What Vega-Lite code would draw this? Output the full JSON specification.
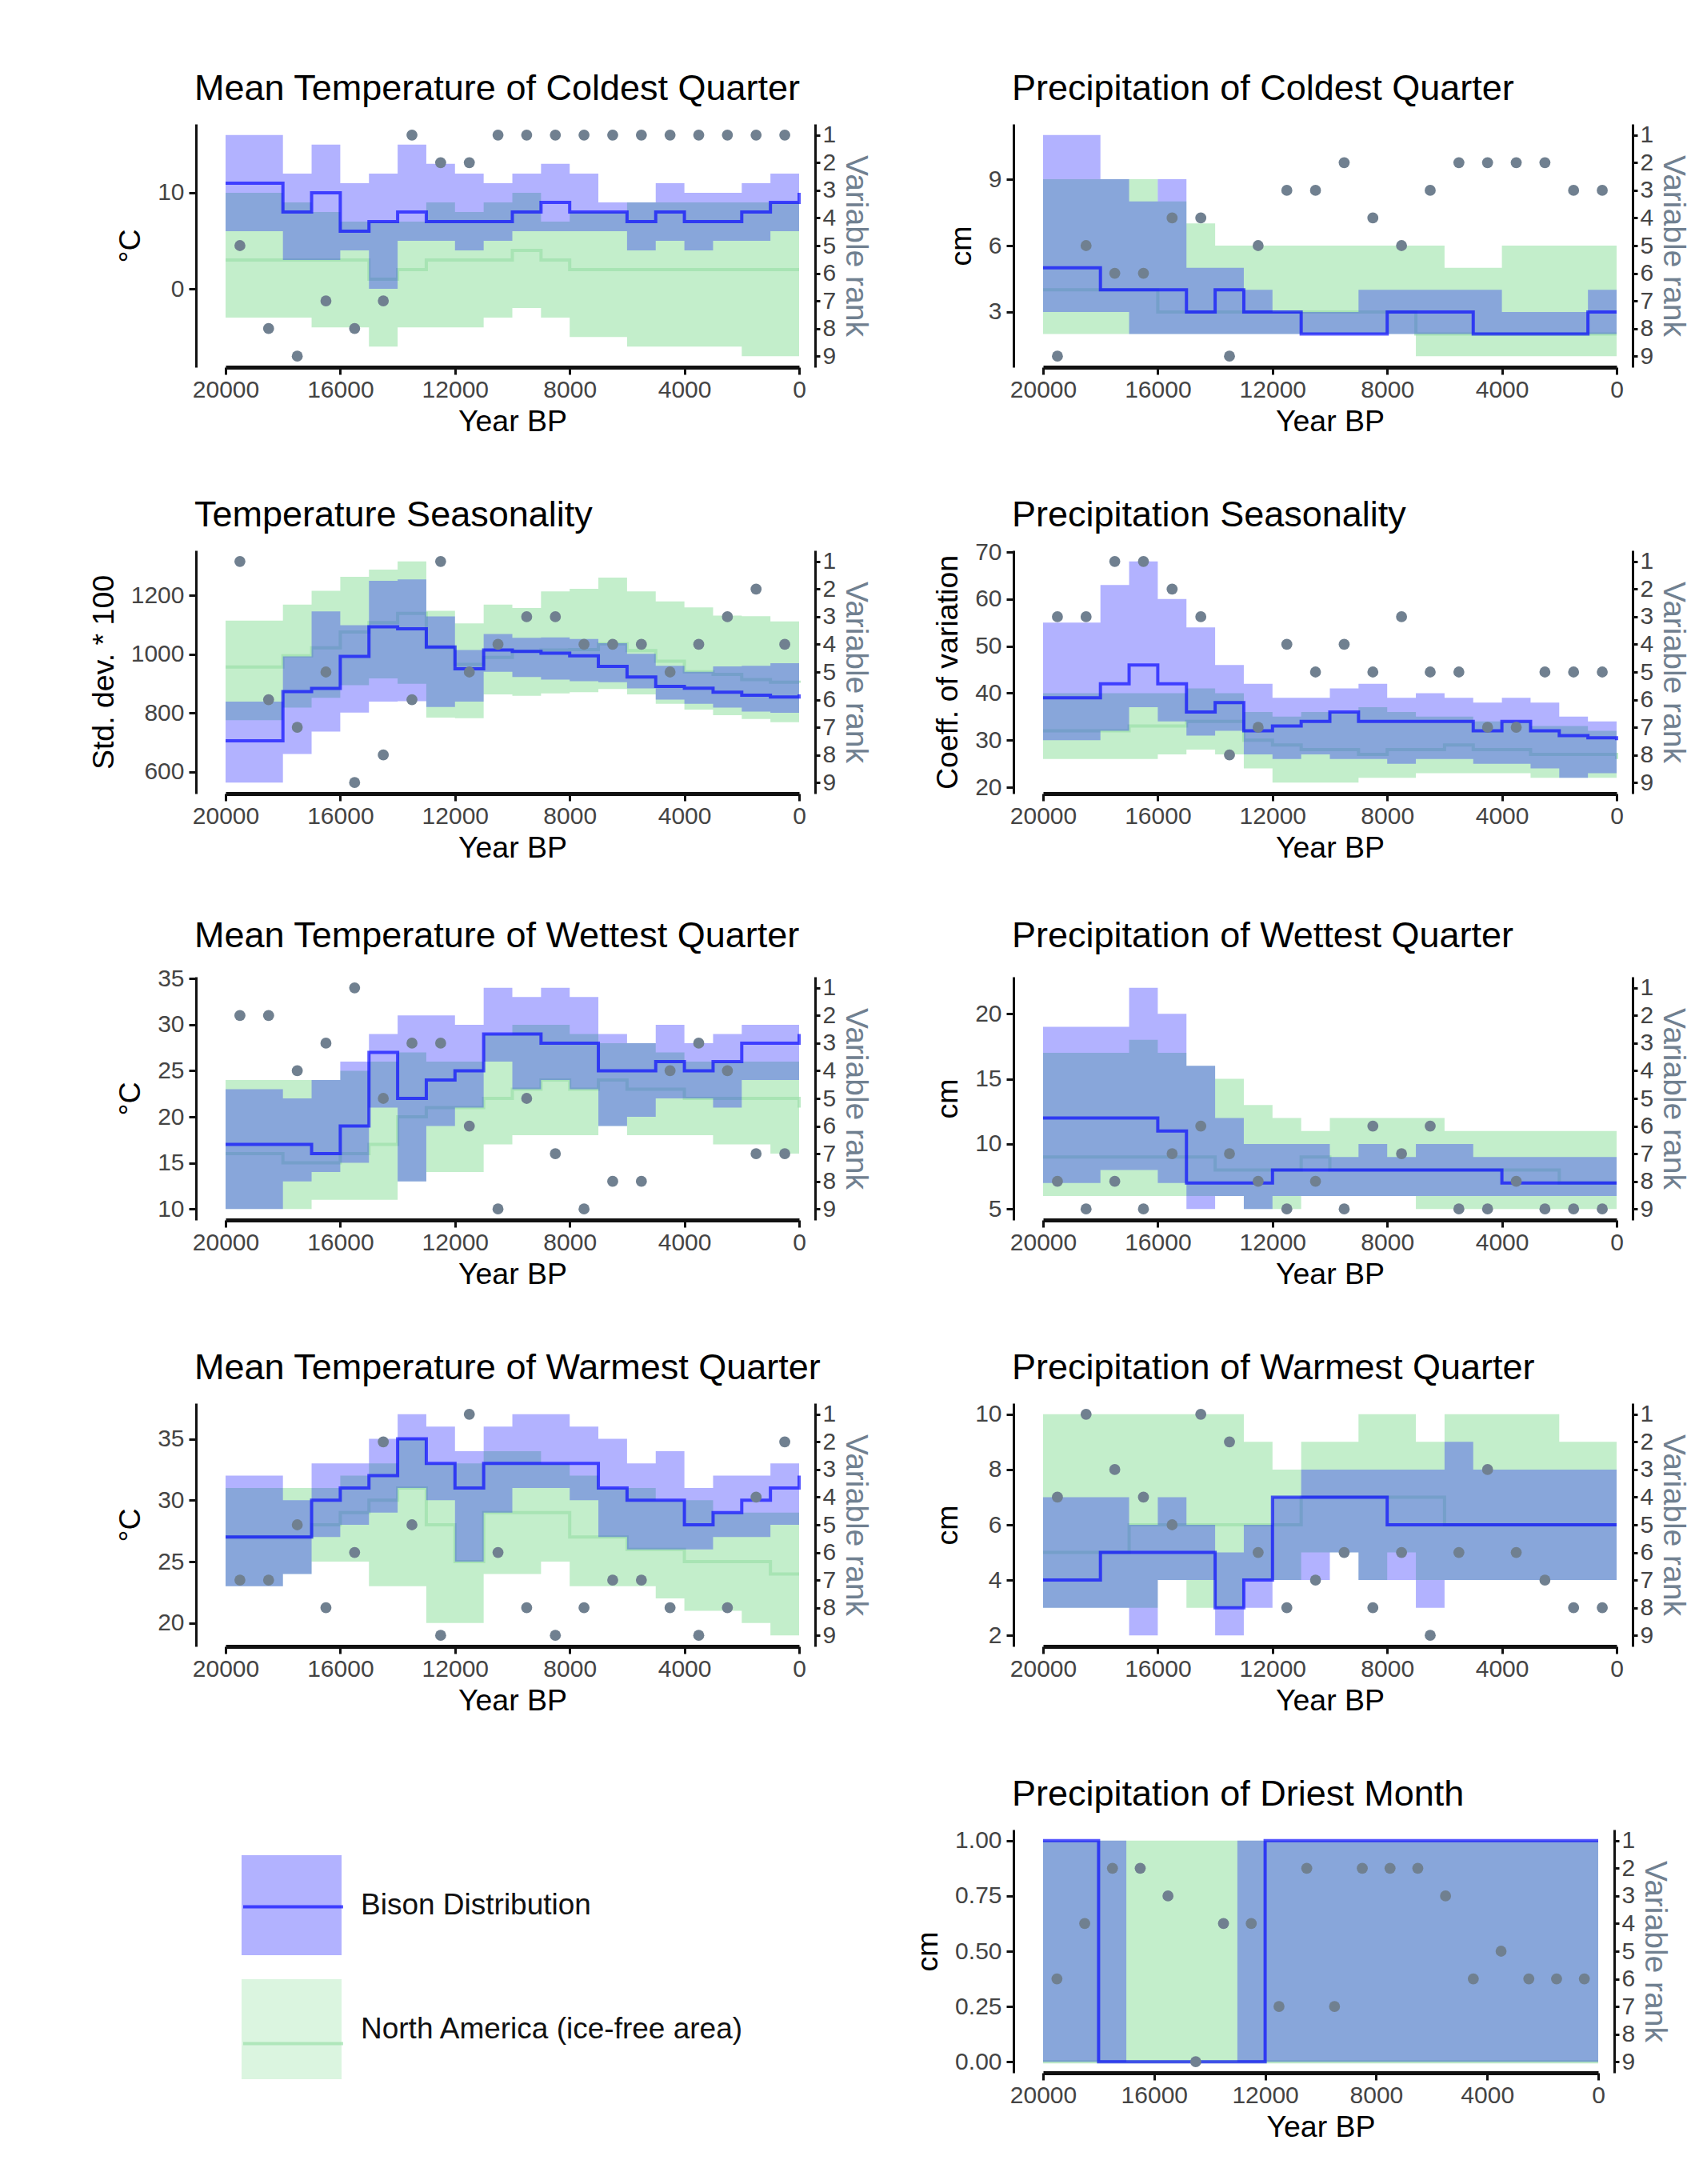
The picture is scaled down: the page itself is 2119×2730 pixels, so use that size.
{
"$schema": "https://vega.github.io/schema/vega-lite/v6.json",
"background": "white",
"padding": {"left": 111, "top": 88, "right": 5, "bottom": 5},
"config": {
  "font": "Liberation Sans",
  "view": {"stroke": null},
  "title": {"fontSize": 45, "fontWeight": "normal", "anchor": "start", "frame": "group", "offset": 20, "baseline": "alphabetic", "dx": -39, "color": "#000000", "font": "Liberation Sans"},
  "axis": {"labelFontSize": 30, "labelColor": "#444444", "titleFontSize": 37.5, "titleFontWeight": "normal", "titleColor": "#000000", "domainColor": "#111111", "domainWidth": 3, "tickColor": "#111111", "tickWidth": 3, "grid": false, "labelFont": "Liberation Sans", "titleFont": "Liberation Sans", "labelFlush": false, "labelOverlap": false},
  "axisBottom": {"domainWidth": 5, "tickSize": 9, "labelPadding": 4, "titlePadding": 6},
  "axisLeft": {"offset": 37, "tickSize": 9, "labelPadding": 6, "titlePadding": 14},
  "axisRight": {"offset": 20, "tickSize": 6, "labelPadding": 3, "titlePadding": 5, "titleColor": "#708090", "titleFontSize": 39},
  "legend": {"labelFont": "Liberation Sans"}
},
"datasets": {
"p1": [
{"t":0,"m":500,"bh":14,"bm":10,"bl":7,"nh":10,"nm":2,"nl":-7,"r":1},
{"t":1000,"m":1500,"bh":12,"bm":9,"bl":6,"nh":9,"nm":2,"nl":-7,"r":1},
{"t":2000,"m":2500,"bh":11,"bm":8,"bl":5,"nh":9,"nm":2,"nl":-7,"r":1},
{"t":3000,"m":3500,"bh":10,"bm":7,"bl":5,"nh":9,"nm":2,"nl":-6,"r":1},
{"t":4000,"m":4500,"bh":10,"bm":7,"bl":4,"nh":9,"nm":2,"nl":-6,"r":1},
{"t":5000,"m":5500,"bh":11,"bm":8,"bl":5,"nh":9,"nm":2,"nl":-6,"r":1},
{"t":6000,"m":6500,"bh":9,"bm":7,"bl":4,"nh":9,"nm":2,"nl":-6,"r":1},
{"t":7000,"m":7500,"bh":9,"bm":8,"bl":6,"nh":8,"nm":2,"nl":-5,"r":1},
{"t":8000,"m":8500,"bh":12,"bm":8,"bl":6,"nh":8,"nm":2,"nl":-5,"r":1},
{"t":9000,"m":9500,"bh":13,"bm":9,"bl":6,"nh":7,"nm":3,"nl":-3,"r":1},
{"t":10000,"m":10500,"bh":12,"bm":8,"bl":6,"nh":10,"nm":4,"nl":-2,"r":1},
{"t":11000,"m":11500,"bh":11,"bm":7,"bl":5,"nh":9,"nm":3,"nl":-3,"r":2},
{"t":12000,"m":12500,"bh":12,"bm":7,"bl":4,"nh":8,"nm":3,"nl":-4,"r":2},
{"t":13000,"m":13500,"bh":13,"bm":7,"bl":5,"nh":9,"nm":3,"nl":-4,"r":1},
{"t":14000,"m":14500,"bh":15,"bm":8,"bl":5,"nh":7,"nm":2,"nl":-4,"r":7},
{"t":15000,"m":15500,"bh":12,"bm":7,"bl":0,"nh":7,"nm":1,"nl":-6,"r":8},
{"t":16000,"m":16500,"bh":11,"bm":6,"bl":4,"nh":7,"nm":3,"nl":-4,"r":7},
{"t":17000,"m":17500,"bh":15,"bm":10,"bl":3,"nh":8,"nm":3,"nl":-4,"r":9},
{"t":18000,"m":18500,"bh":12,"bm":8,"bl":3,"nh":9,"nm":3,"nl":-3,"r":8},
{"t":19000,"m":19500,"bh":16,"bm":11,"bl":6,"nh":10,"nm":3,"nl":-3,"r":5},
{"t":20000,"bh":16,"bm":11,"bl":6,"nh":10,"nm":3,"nl":-3}
],
"p2": [
{"t":0,"m":500,"bh":4,"bm":3,"bl":2,"nh":6,"nm":2,"nl":1,"r":3},
{"t":1000,"m":1500,"bh":4,"bm":3,"bl":2,"nh":6,"nm":2,"nl":1,"r":3},
{"t":2000,"m":2500,"bh":3,"bm":2,"bl":2,"nh":6,"nm":2,"nl":1,"r":2},
{"t":3000,"m":3500,"bh":3,"bm":2,"bl":2,"nh":6,"nm":2,"nl":1,"r":2},
{"t":4000,"m":4500,"bh":3,"bm":2,"bl":2,"nh":6,"nm":2,"nl":1,"r":2},
{"t":5000,"m":5500,"bh":4,"bm":2,"bl":2,"nh":5,"nm":2,"nl":1,"r":2},
{"t":6000,"m":6500,"bh":4,"bm":3,"bl":2,"nh":5,"nm":2,"nl":1,"r":3},
{"t":7000,"m":7500,"bh":4,"bm":3,"bl":2,"nh":6,"nm":2,"nl":1,"r":5},
{"t":8000,"m":8500,"bh":4,"bm":3,"bl":2,"nh":6,"nm":3,"nl":2,"r":4},
{"t":9000,"m":9500,"bh":4,"bm":2,"bl":2,"nh":6,"nm":3,"nl":2,"r":2},
{"t":10000,"m":10500,"bh":3,"bm":2,"bl":2,"nh":6,"nm":3,"nl":2,"r":3},
{"t":11000,"m":11500,"bh":3,"bm":2,"bl":2,"nh":6,"nm":3,"nl":2,"r":3},
{"t":12000,"m":12500,"bh":3,"bm":3,"bl":2,"nh":6,"nm":3,"nl":2,"r":5},
{"t":13000,"m":13500,"bh":4,"bm":3,"bl":2,"nh":6,"nm":3,"nl":2,"r":9},
{"t":14000,"m":14500,"bh":5,"bm":4,"bl":2,"nh":6,"nm":3,"nl":2,"r":4},
{"t":15000,"m":15500,"bh":5,"bm":3,"bl":2,"nh":7,"nm":3,"nl":2,"r":4},
{"t":16000,"m":16500,"bh":9,"bm":4,"bl":2,"nh":8,"nm":3,"nl":2,"r":6},
{"t":17000,"m":17500,"bh":8,"bm":4,"bl":2,"nh":9,"nm":4,"nl":2,"r":6},
{"t":18000,"m":18500,"bh":9,"bm":4,"bl":3,"nh":9,"nm":4,"nl":2,"r":5},
{"t":19000,"m":19500,"bh":11,"bm":5,"bl":3,"nh":9,"nm":4,"nl":2,"r":9},
{"t":20000,"bh":11,"bm":5,"bl":3,"nh":9,"nm":4,"nl":2}
],
"p3": [
{"t":0,"m":500,"bh":950,"bm":864,"bl":765,"nh":1103,"nm":903,"nl":760,"r":4},
{"t":1000,"m":1500,"bh":970,"bm":855,"bl":801,"nh":1112,"nm":905,"nl":769,"r":2},
{"t":2000,"m":2500,"bh":961,"bm":861,"bl":805,"nh":1130,"nm":914,"nl":780,"r":3},
{"t":3000,"m":3500,"bh":959,"bm":871,"bl":819,"nh":1132,"nm":932,"nl":793,"r":4},
{"t":4000,"m":4500,"bh":941,"bm":885,"bl":832,"nh":1160,"nm":941,"nl":812,"r":5},
{"t":5000,"m":5500,"bh":961,"bm":891,"bl":846,"nh":1180,"nm":977,"nl":832,"r":4},
{"t":6000,"m":6500,"bh":1002,"bm":923,"bl":884,"nh":1214,"nm":1013,"nl":864,"r":4},
{"t":7000,"m":7500,"bh":1038,"bm":959,"bl":905,"nh":1261,"nm":1036,"nl":882,"r":4},
{"t":8000,"m":8500,"bh":1052,"bm":995,"bl":909,"nh":1223,"nm":1016,"nl":871,"r":3},
{"t":9000,"m":9500,"bh":1058,"bm":1004,"bl":914,"nh":1214,"nm":1015,"nl":867,"r":3},
{"t":10000,"m":10500,"bh":1056,"bm":1010,"bl":923,"nh":1158,"nm":1011,"nl":859,"r":4},
{"t":11000,"m":11500,"bh":1069,"bm":1015,"bl":941,"nh":1169,"nm":990,"nl":864,"r":5},
{"t":12000,"m":12500,"bh":1015,"bm":951,"bl":839,"nh":1105,"nm":966,"nl":783,"r":1},
{"t":13000,"m":13500,"bh":1129,"bm":1025,"bl":821,"nh":1148,"nm":1022,"nl":785,"r":6},
{"t":14000,"m":14500,"bh":1255,"bm":1087,"bl":841,"nh":1316,"nm":1139,"nl":900,"r":8},
{"t":15000,"m":15500,"bh":1250,"bm":1094,"bl":839,"nh":1288,"nm":1108,"nl":918,"r":9},
{"t":16000,"m":16500,"bh":1099,"bm":993,"bl":802,"nh":1264,"nm":1076,"nl":895,"r":5},
{"t":17000,"m":17500,"bh":1146,"bm":884,"bl":737,"nh":1216,"nm":1022,"nl":852,"r":7},
{"t":18000,"m":18500,"bh":993,"bm":873,"bl":661,"nh":1169,"nm":995,"nl":819,"r":6},
{"t":19000,"m":19500,"bh":839,"bm":706,"bl":564,"nh":1115,"nm":957,"nl":776,"r":1},
{"t":20000,"bh":839,"bm":706,"bl":564,"nh":1115,"nm":957,"nl":776}
],
"p4": [
{"t":0,"m":500,"bh":33,"bm":30,"bl":21,"nh":32,"nm":26,"nl":21,"r":5},
{"t":1000,"m":1500,"bh":34,"bm":30.5,"bl":23,"nh":32,"nm":27,"nl":22,"r":5},
{"t":2000,"m":2500,"bh":35,"bm":31,"bl":22,"nh":33,"nm":27,"nl":22,"r":5},
{"t":3000,"m":3500,"bh":38,"bm":32,"bl":24,"nh":33,"nm":27,"nl":22,"r":7},
{"t":4000,"m":4500,"bh":39,"bm":34,"bl":25,"nh":34,"nm":28,"nl":23,"r":7},
{"t":5000,"m":5500,"bh":38,"bm":32,"bl":25,"nh":34,"nm":28,"nl":23,"r":5},
{"t":6000,"m":6500,"bh":39,"bm":34,"bl":26,"nh":35,"nm":29,"nl":23,"r":5},
{"t":7000,"m":7500,"bh":40,"bm":34,"bl":26,"nh":35,"nm":28,"nl":23,"r":3},
{"t":8000,"m":8500,"bh":39,"bm":34,"bl":25,"nh":36,"nm":28,"nl":22,"r":5},
{"t":9000,"m":9500,"bh":42,"bm":34,"bl":26,"nh":37,"nm":27,"nl":22,"r":4},
{"t":10000,"m":10500,"bh":41,"bm":36,"bl":26,"nh":36,"nm":28,"nl":21,"r":5},
{"t":11000,"m":11500,"bh":39,"bm":34,"bl":27,"nh":36,"nm":28,"nl":21,"r":4},
{"t":12000,"m":12500,"bh":39,"bm":33,"bl":26,"nh":35,"nm":29,"nl":21,"r":7},
{"t":13000,"m":13500,"bh":42,"bm":32,"bl":27,"nh":36,"nm":30,"nl":24,"r":8},
{"t":14000,"m":14500,"bh":46,"bm":38,"bl":32,"nh":40,"nm":34,"nl":27,"r":3},
{"t":15000,"m":15500,"bh":54,"bm":36,"bl":31,"nh":41,"nm":34,"nl":28,"r":2},
{"t":16000,"m":16500,"bh":60,"bm":42,"bl":34,"nh":40,"nm":33,"nl":27,"r":1},
{"t":17000,"m":17500,"bh":68,"bm":46,"bl":37,"nh":40,"nm":33,"nl":26,"r":1},
{"t":18000,"m":18500,"bh":63,"bm":42,"bl":32,"nh":40,"nm":32,"nl":26,"r":3},
{"t":19000,"m":19500,"bh":55,"bm":39,"bl":30,"nh":40,"nm":32,"nl":26,"r":3},
{"t":20000,"bh":55,"bm":39,"bl":30,"nh":40,"nm":32,"nl":26}
],
"p5": [
{"t":0,"m":500,"bh":31,"bm":29,"bl":26,"nh":26,"nm":21,"nl":16,"r":7},
{"t":1000,"m":1500,"bh":30,"bm":28,"bl":24,"nh":26,"nm":22,"nl":16,"r":7},
{"t":2000,"m":2500,"bh":30,"bm":28,"bl":24,"nh":26,"nm":22,"nl":17,"r":4},
{"t":3000,"m":3500,"bh":29,"bm":26,"bl":21,"nh":26,"nm":22,"nl":17,"r":3},
{"t":4000,"m":4500,"bh":28,"bm":25,"bl":22,"nh":26,"nm":22,"nl":18,"r":4},
{"t":5000,"m":5500,"bh":30,"bm":26,"bl":22,"nh":27,"nm":23,"nl":18,"r":8},
{"t":6000,"m":6500,"bh":28,"bm":25,"bl":20,"nh":28,"nm":23,"nl":18,"r":8},
{"t":7000,"m":7500,"bh":29,"bm":25,"bl":19,"nh":28,"nm":24,"nl":19,"r":9},
{"t":8000,"m":8500,"bh":33,"bm":28,"bl":23,"nh":29,"nm":23,"nl":18,"r":7},
{"t":9000,"m":9500,"bh":34,"bm":28,"bl":24,"nh":30,"nm":24,"nl":18,"r":5},
{"t":10000,"m":10500,"bh":33,"bm":29,"bl":23,"nh":30,"nm":23,"nl":18,"r":9},
{"t":11000,"m":11500,"bh":34,"bm":29,"bl":26,"nh":29,"nm":22,"nl":17,"r":6},
{"t":12000,"m":12500,"bh":30,"bm":25,"bl":21,"nh":26,"nm":21,"nl":14,"r":3},
{"t":13000,"m":13500,"bh":31,"bm":24,"bl":19,"nh":26,"nm":21,"nl":14,"r":3},
{"t":14000,"m":14500,"bh":31,"bm":22,"bl":13,"nh":27,"nm":20,"nl":13,"r":5},
{"t":15000,"m":15500,"bh":29,"bm":27,"bl":21,"nh":26,"nm":17,"nl":11,"r":1},
{"t":16000,"m":16500,"bh":26,"bm":19,"bl":15,"nh":25,"nm":16,"nl":11,"r":3},
{"t":17000,"m":17500,"bh":24,"bm":16,"bl":14,"nh":24,"nm":15,"nl":11,"r":4},
{"t":18000,"m":18500,"bh":22,"bm":17,"bl":13,"nh":24,"nm":15,"nl":10,"r":2},
{"t":19000,"m":19500,"bh":23,"bm":17,"bl":10,"nh":24,"nm":16,"nl":10,"r":2},
{"t":20000,"bh":23,"bm":17,"bl":10,"nh":24,"nm":16,"nl":10}
],
"p6": [
{"t":0,"m":500,"bh":10,"bm":7,"bl":6,"nh":11,"nm":7,"nl":5,"r":9},
{"t":1000,"m":1500,"bh":9,"bm":7,"bl":6,"nh":11,"nm":7,"nl":5,"r":9},
{"t":2000,"m":2500,"bh":9,"bm":7,"bl":6,"nh":11,"nm":7,"nl":5,"r":9},
{"t":3000,"m":3500,"bh":9,"bm":7,"bl":6,"nh":11,"nm":8,"nl":5,"r":8},
{"t":4000,"m":4500,"bh":9,"bm":7,"bl":6,"nh":11,"nm":8,"nl":5,"r":9},
{"t":5000,"m":5500,"bh":9,"bm":8,"bl":6,"nh":11,"nm":8,"nl":5,"r":9},
{"t":6000,"m":6500,"bh":10,"bm":8,"bl":6,"nh":11,"nm":8,"nl":5,"r":6},
{"t":7000,"m":7500,"bh":10,"bm":8,"bl":6,"nh":12,"nm":8,"nl":5,"r":7},
{"t":8000,"m":8500,"bh":9,"bm":8,"bl":6,"nh":12,"nm":8,"nl":6,"r":6},
{"t":9000,"m":9500,"bh":10,"bm":8,"bl":6,"nh":12,"nm":8,"nl":6,"r":9},
{"t":10000,"m":10500,"bh":9,"bm":8,"bl":6,"nh":12,"nm":8,"nl":6,"r":8},
{"t":11000,"m":11500,"bh":10,"bm":8,"bl":6,"nh":11,"nm":9,"nl":6,"r":9},
{"t":12000,"m":12500,"bh":10,"bm":8,"bl":6,"nh":12,"nm":8,"nl":5,"r":8},
{"t":13000,"m":13500,"bh":10,"bm":7,"bl":5,"nh":13,"nm":8,"nl":5,"r":7},
{"t":14000,"m":14500,"bh":12,"bm":7,"bl":6,"nh":15,"nm":8,"nl":6,"r":6},
{"t":15000,"m":15500,"bh":16,"bm":7,"bl":5,"nh":16,"nm":9,"nl":6,"r":7},
{"t":16000,"m":16500,"bh":20,"bm":11,"bl":7,"nh":17,"nm":9,"nl":6,"r":9},
{"t":17000,"m":17500,"bh":22,"bm":12,"bl":8,"nh":18,"nm":9,"nl":6,"r":8},
{"t":18000,"m":18500,"bh":19,"bm":12,"bl":8,"nh":17,"nm":9,"nl":6,"r":9},
{"t":19000,"m":19500,"bh":19,"bm":12,"bl":7,"nh":17,"nm":9,"nl":6,"r":8},
{"t":20000,"bh":19,"bm":12,"bl":7,"nh":17,"nm":9,"nl":6}
],
"p7": [
{"t":0,"m":500,"bh":34,"bm":32,"bl":30,"nh":30,"nm":24,"nl":19,"r":2},
{"t":1000,"m":1500,"bh":33,"bm":31,"bl":28,"nh":29,"nm":24,"nl":19,"r":4},
{"t":2000,"m":2500,"bh":32,"bm":30,"bl":27,"nh":29,"nm":25,"nl":20,"r":8},
{"t":3000,"m":3500,"bh":32,"bm":29,"bl":27,"nh":29,"nm":25,"nl":21,"r":9},
{"t":4000,"m":4500,"bh":31,"bm":28,"bl":26,"nh":30,"nm":25,"nl":21,"r":8},
{"t":5000,"m":5500,"bh":34,"bm":30,"bl":26,"nh":30,"nm":26,"nl":22,"r":7},
{"t":6000,"m":6500,"bh":33,"bm":30,"bl":26,"nh":31,"nm":26,"nl":23,"r":7},
{"t":7000,"m":7500,"bh":35,"bm":31,"bl":27,"nh":31,"nm":27,"nl":23,"r":8},
{"t":8000,"m":8500,"bh":36,"bm":33,"bl":30,"nh":32,"nm":27,"nl":23,"r":9},
{"t":9000,"m":9500,"bh":37,"bm":33,"bl":31,"nh":33,"nm":29,"nl":25,"r":8},
{"t":10000,"m":10500,"bh":37,"bm":33,"bl":31,"nh":34,"nm":29,"nl":24,"r":6},
{"t":11000,"m":11500,"bh":36,"bm":33,"bl":29,"nh":34,"nm":29,"nl":24,"r":1},
{"t":12000,"m":12500,"bh":34,"bm":31,"bl":25,"nh":33,"nm":25,"nl":20,"r":9},
{"t":13000,"m":13500,"bh":36,"bm":33,"bl":30,"nh":33,"nm":28,"nl":20,"r":5},
{"t":14000,"m":14500,"bh":37,"bm":35,"bl":31,"nh":35,"nm":31,"nl":23,"r":2},
{"t":15000,"m":15500,"bh":35,"bm":32,"bl":29,"nh":33,"nm":30,"nl":23,"r":6},
{"t":16000,"m":16500,"bh":33,"bm":31,"bl":28,"nh":32,"nm":29,"nl":25,"r":8},
{"t":17000,"m":17500,"bh":33,"bm":30,"bl":27,"nh":31,"nm":28,"nl":25,"r":5},
{"t":18000,"m":18500,"bh":30,"bm":27,"bl":24,"nh":31,"nm":27,"nl":24,"r":7},
{"t":19000,"m":19500,"bh":32,"bm":27,"bl":23,"nh":31,"nm":27,"nl":23,"r":7},
{"t":20000,"bh":32,"bm":27,"bl":23,"nh":31,"nm":27,"nl":23}
],
"p8": [
{"t":0,"m":500,"bh":8,"bm":6,"bl":5,"nh":9,"nm":6,"nl":4,"r":8},
{"t":1000,"m":1500,"bh":8,"bm":6,"bl":4,"nh":9,"nm":6,"nl":4,"r":8},
{"t":2000,"m":2500,"bh":8,"bm":6,"bl":4,"nh":9,"nm":6,"nl":4,"r":7},
{"t":3000,"m":3500,"bh":8,"bm":6,"bl":4,"nh":10,"nm":6,"nl":4,"r":6},
{"t":4000,"m":4500,"bh":8,"bm":6,"bl":4,"nh":10,"nm":6,"nl":4,"r":3},
{"t":5000,"m":5500,"bh":8,"bm":6,"bl":4,"nh":10,"nm":6,"nl":4,"r":6},
{"t":6000,"m":6500,"bh":9,"bm":6,"bl":4,"nh":10,"nm":6,"nl":4,"r":9},
{"t":7000,"m":7500,"bh":8,"bm":6,"bl":3,"nh":9,"nm":7,"nl":4,"r":6},
{"t":8000,"m":8500,"bh":8,"bm":6,"bl":4,"nh":10,"nm":7,"nl":5,"r":8},
{"t":9000,"m":9500,"bh":8,"bm":7,"bl":4,"nh":10,"nm":7,"nl":4,"r":6},
{"t":10000,"m":10500,"bh":8,"bm":7,"bl":5,"nh":9,"nm":7,"nl":5,"r":7},
{"t":11000,"m":11500,"bh":8,"bm":7,"bl":4,"nh":9,"nm":7,"nl":5,"r":8},
{"t":12000,"m":12500,"bh":7,"bm":7,"bl":4,"nh":8,"nm":6,"nl":4,"r":6},
{"t":13000,"m":13500,"bh":6,"bm":4,"bl":3,"nh":9,"nm":6,"nl":4,"r":2},
{"t":14000,"m":14500,"bh":5,"bm":3,"bl":2,"nh":10,"nm":6,"nl":3,"r":1},
{"t":15000,"m":15500,"bh":6,"bm":5,"bl":4,"nh":10,"nm":6,"nl":3,"r":5},
{"t":16000,"m":16500,"bh":7,"bm":5,"bl":4,"nh":10,"nm":6,"nl":4,"r":4},
{"t":17000,"m":17500,"bh":6,"bm":5,"bl":2,"nh":10,"nm":6,"nl":3,"r":3},
{"t":18000,"m":18500,"bh":7,"bm":5,"bl":3,"nh":10,"nm":5,"nl":3,"r":1},
{"t":19000,"m":19500,"bh":7,"bm":4,"bl":3,"nh":10,"nm":5,"nl":3,"r":4},
{"t":20000,"bh":7,"bm":4,"bl":3,"nh":10,"nm":5,"nl":3}
],
"p9": [
{"t":0,"m":500,"bh":1,"bm":1,"bl":0,"nh":1,"nm":0,"nl":0,"r":6},
{"t":1000,"m":1500,"bh":1,"bm":1,"bl":0,"nh":1,"nm":0,"nl":0,"r":6},
{"t":2000,"m":2500,"bh":1,"bm":1,"bl":0,"nh":1,"nm":0,"nl":0,"r":6},
{"t":3000,"m":3500,"bh":1,"bm":1,"bl":0,"nh":1,"nm":0,"nl":0,"r":5},
{"t":4000,"m":4500,"bh":1,"bm":1,"bl":0,"nh":1,"nm":0,"nl":0,"r":6},
{"t":5000,"m":5500,"bh":1,"bm":1,"bl":0,"nh":1,"nm":0,"nl":0,"r":3},
{"t":6000,"m":6500,"bh":1,"bm":1,"bl":0,"nh":1,"nm":0,"nl":0,"r":2},
{"t":7000,"m":7500,"bh":1,"bm":1,"bl":0,"nh":1,"nm":0,"nl":0,"r":2},
{"t":8000,"m":8500,"bh":1,"bm":1,"bl":0,"nh":1,"nm":0,"nl":0,"r":2},
{"t":9000,"m":9500,"bh":1,"bm":1,"bl":0,"nh":1,"nm":0,"nl":0,"r":7},
{"t":10000,"m":10500,"bh":1,"bm":1,"bl":0,"nh":1,"nm":0,"nl":0,"r":2},
{"t":11000,"m":11500,"bh":1,"bm":1,"bl":0,"nh":1,"nm":0,"nl":0,"r":7},
{"t":12000,"m":12500,"bh":1,"bm":1,"bl":0,"nh":1,"nm":0,"nl":0,"r":4},
{"t":13000,"m":13500,"bh":1,"bm":0,"bl":0,"nh":1,"nm":0,"nl":0,"r":4},
{"t":14000,"m":14500,"bh":0,"bm":0,"bl":0,"nh":1,"nm":0,"nl":0,"r":9},
{"t":15000,"m":15500,"bh":0,"bm":0,"bl":0,"nh":1,"nm":0,"nl":0,"r":3},
{"t":16000,"m":16500,"bh":0,"bm":0,"bl":0,"nh":1,"nm":0,"nl":0,"r":2},
{"t":17000,"m":17500,"bh":0,"bm":0,"bl":0,"nh":1,"nm":0,"nl":0,"r":2},
{"t":18000,"m":18500,"bh":1,"bm":0,"bl":0,"nh":1,"nm":0,"nl":0,"r":4},
{"t":19000,"m":19500,"bh":1,"bm":1,"bl":0,"nh":1,"nm":0,"nl":0,"r":6},
{"t":20000,"bh":1,"bm":1,"bl":0,"nh":1,"nm":0,"nl":0}
]
},
"columns": 2,
"bounds": "flush",
"spacing": {"row": 229, "column": 305},
"resolve": {"scale": {"fill": "shared", "stroke": "shared"}, "legend": {"fill": "shared", "stroke": "shared"}},
"concat": [
{"title": "Mean Temperature of Coldest Quarter", "width": 717, "height": 304, "data": {"name": "p1"}, "resolve": {"scale": {"y": "independent"}},
 "layer": [
  {"layer": [
   {"mark": {"type": "area", "interpolate": "step-after", "fillOpacity": 0.5}, "encoding": {"x": {"field": "t", "type": "quantitative", "scale": {"domain": [0, 20000], "reverse": true, "nice": false, "zero": false}, "axis": {"title": "Year BP", "values": [20000, 16000, 12000, 8000, 4000, 0], "format": "d"}}, "y": {"field": "nl", "type": "quantitative", "scale": {"domain": [-8.15, 17.15], "nice": false, "zero": false}, "axis": {"title": "°C", "values": [0, 10], "format": "d"}}, "y2": {"field": "nh"}, "fill": {"datum": "North America (ice-free area)", "type": "nominal", "scale": {"domain": ["Bison Distribution", "North America (ice-free area)"], "range": ["#0000ff", "#87de98"]}, "legend": {"orient": "none", "legendX": 20, "legendY": 2164, "title": null, "symbolType": "square", "symbolSize": 15625, "symbolOpacity": 0.3, "symbolStrokeWidth": 0, "labelFontSize": 37, "labelColor": "#111111", "labelOffset": 24, "rowPadding": 30, "padding": 0, "labelLimit": 1000}}}},
   {"mark": {"type": "line", "interpolate": "step-after", "strokeWidth": 4, "strokeOpacity": 0.65}, "encoding": {"x": {"field": "t", "type": "quantitative", "scale": {"domain": [0, 20000], "reverse": true, "nice": false, "zero": false}, "axis": {"title": "Year BP", "values": [20000, 16000, 12000, 8000, 4000, 0], "format": "d"}}, "y": {"field": "nm", "type": "quantitative", "scale": {"domain": [-8.15, 17.15], "nice": false, "zero": false}, "axis": {"title": "°C", "values": [0, 10], "format": "d"}}, "stroke": {"datum": "na", "type": "nominal", "scale": {"domain": ["bison", "na"], "range": ["#0000ff", "#99dfa8"]}, "legend": {"orient": "none", "legendX": 20, "legendY": 2164, "title": null, "symbolType": "M0,-1M0,1M-1,0H1", "symbolSize": 15625, "symbolStrokeWidth": 4, "symbolOpacity": 0.65, "labelExpr": "''", "labelFontSize": 37, "labelOffset": 24, "rowPadding": 30, "padding": 0}}}},
   {"mark": {"type": "area", "interpolate": "step-after", "fillOpacity": 0.3}, "encoding": {"x": {"field": "t", "type": "quantitative", "scale": {"domain": [0, 20000], "reverse": true, "nice": false, "zero": false}, "axis": {"title": "Year BP", "values": [20000, 16000, 12000, 8000, 4000, 0], "format": "d"}}, "y": {"field": "bl", "type": "quantitative", "scale": {"domain": [-8.15, 17.15], "nice": false, "zero": false}, "axis": {"title": "°C", "values": [0, 10], "format": "d"}}, "y2": {"field": "bh"}, "fill": {"datum": "Bison Distribution", "type": "nominal"}}},
   {"mark": {"type": "line", "interpolate": "step-after", "strokeWidth": 4, "strokeOpacity": 0.65}, "encoding": {"x": {"field": "t", "type": "quantitative", "scale": {"domain": [0, 20000], "reverse": true, "nice": false, "zero": false}, "axis": {"title": "Year BP", "values": [20000, 16000, 12000, 8000, 4000, 0], "format": "d"}}, "y": {"field": "bm", "type": "quantitative", "scale": {"domain": [-8.15, 17.15], "nice": false, "zero": false}, "axis": {"title": "°C", "values": [0, 10], "format": "d"}}, "stroke": {"datum": "bison", "type": "nominal"}}}
  ]},
  {"transform": [{"filter": "isValid(datum.r)"}], "mark": {"type": "circle", "size": 190, "color": "#708090", "opacity": 1}, "encoding": {"x": {"field": "m", "type": "quantitative", "scale": {"domain": [0, 20000], "reverse": true, "nice": false, "zero": false}, "axis": {"title": "Year BP", "values": [20000, 16000, 12000, 8000, 4000, 0], "format": "d"}}, "y": {"field": "r", "type": "quantitative", "scale": {"domain": [0.6, 9.4], "reverse": true, "nice": false, "zero": false}, "axis": {"orient": "right", "title": "Variable rank", "values": [1, 2, 3, 4, 5, 6, 7, 8, 9], "format": "d"}}}}
 ]},
{"title": "Precipitation of Coldest Quarter", "width": 717, "height": 304, "data": {"name": "p2"}, "resolve": {"scale": {"y": "independent"}},
 "layer": [
  {"layer": [
   {"mark": {"type": "area", "interpolate": "step-after", "fillOpacity": 0.5}, "encoding": {"x": {"field": "t", "type": "quantitative", "scale": {"domain": [0, 20000], "reverse": true, "nice": false, "zero": false}, "axis": {"title": "Year BP", "values": [20000, 16000, 12000, 8000, 4000, 0], "format": "d"}}, "y": {"field": "nl", "type": "quantitative", "scale": {"domain": [0.5, 11.5], "nice": false, "zero": false}, "axis": {"title": "cm", "values": [3, 6, 9], "format": "d"}}, "y2": {"field": "nh"}, "fill": {"datum": "North America (ice-free area)", "type": "nominal"}}},
   {"mark": {"type": "line", "interpolate": "step-after", "strokeWidth": 4, "strokeOpacity": 0.65}, "encoding": {"x": {"field": "t", "type": "quantitative", "scale": {"domain": [0, 20000], "reverse": true, "nice": false, "zero": false}, "axis": {"title": "Year BP", "values": [20000, 16000, 12000, 8000, 4000, 0], "format": "d"}}, "y": {"field": "nm", "type": "quantitative", "scale": {"domain": [0.5, 11.5], "nice": false, "zero": false}, "axis": {"title": "cm", "values": [3, 6, 9], "format": "d"}}, "stroke": {"datum": "na", "type": "nominal"}}},
   {"mark": {"type": "area", "interpolate": "step-after", "fillOpacity": 0.3}, "encoding": {"x": {"field": "t", "type": "quantitative", "scale": {"domain": [0, 20000], "reverse": true, "nice": false, "zero": false}, "axis": {"title": "Year BP", "values": [20000, 16000, 12000, 8000, 4000, 0], "format": "d"}}, "y": {"field": "bl", "type": "quantitative", "scale": {"domain": [0.5, 11.5], "nice": false, "zero": false}, "axis": {"title": "cm", "values": [3, 6, 9], "format": "d"}}, "y2": {"field": "bh"}, "fill": {"datum": "Bison Distribution", "type": "nominal"}}},
   {"mark": {"type": "line", "interpolate": "step-after", "strokeWidth": 4, "strokeOpacity": 0.65}, "encoding": {"x": {"field": "t", "type": "quantitative", "scale": {"domain": [0, 20000], "reverse": true, "nice": false, "zero": false}, "axis": {"title": "Year BP", "values": [20000, 16000, 12000, 8000, 4000, 0], "format": "d"}}, "y": {"field": "bm", "type": "quantitative", "scale": {"domain": [0.5, 11.5], "nice": false, "zero": false}, "axis": {"title": "cm", "values": [3, 6, 9], "format": "d"}}, "stroke": {"datum": "bison", "type": "nominal"}}}
  ]},
  {"transform": [{"filter": "isValid(datum.r)"}], "mark": {"type": "circle", "size": 190, "color": "#708090", "opacity": 1}, "encoding": {"x": {"field": "m", "type": "quantitative", "scale": {"domain": [0, 20000], "reverse": true, "nice": false, "zero": false}, "axis": {"title": "Year BP", "values": [20000, 16000, 12000, 8000, 4000, 0], "format": "d"}}, "y": {"field": "r", "type": "quantitative", "scale": {"domain": [0.6, 9.4], "reverse": true, "nice": false, "zero": false}, "axis": {"orient": "right", "title": "Variable rank", "values": [1, 2, 3, 4, 5, 6, 7, 8, 9], "format": "d"}}}}
 ]},
{"title": "Temperature Seasonality", "width": 717, "height": 304, "data": {"name": "p3"}, "resolve": {"scale": {"y": "independent"}},
 "layer": [
  {"layer": [
   {"mark": {"type": "area", "interpolate": "step-after", "fillOpacity": 0.5}, "encoding": {"x": {"field": "t", "type": "quantitative", "scale": {"domain": [0, 20000], "reverse": true, "nice": false, "zero": false}, "axis": {"title": "Year BP", "values": [20000, 16000, 12000, 8000, 4000, 0], "format": "d"}}, "y": {"field": "nl", "type": "quantitative", "scale": {"domain": [526.4, 1353.6], "nice": false, "zero": false}, "axis": {"title": "Std. dev. * 100", "values": [600, 800, 1000, 1200], "format": "d"}}, "y2": {"field": "nh"}, "fill": {"datum": "North America (ice-free area)", "type": "nominal"}}},
   {"mark": {"type": "line", "interpolate": "step-after", "strokeWidth": 4, "strokeOpacity": 0.65}, "encoding": {"x": {"field": "t", "type": "quantitative", "scale": {"domain": [0, 20000], "reverse": true, "nice": false, "zero": false}, "axis": {"title": "Year BP", "values": [20000, 16000, 12000, 8000, 4000, 0], "format": "d"}}, "y": {"field": "nm", "type": "quantitative", "scale": {"domain": [526.4, 1353.6], "nice": false, "zero": false}, "axis": {"title": "Std. dev. * 100", "values": [600, 800, 1000, 1200], "format": "d"}}, "stroke": {"datum": "na", "type": "nominal"}}},
   {"mark": {"type": "area", "interpolate": "step-after", "fillOpacity": 0.3}, "encoding": {"x": {"field": "t", "type": "quantitative", "scale": {"domain": [0, 20000], "reverse": true, "nice": false, "zero": false}, "axis": {"title": "Year BP", "values": [20000, 16000, 12000, 8000, 4000, 0], "format": "d"}}, "y": {"field": "bl", "type": "quantitative", "scale": {"domain": [526.4, 1353.6], "nice": false, "zero": false}, "axis": {"title": "Std. dev. * 100", "values": [600, 800, 1000, 1200], "format": "d"}}, "y2": {"field": "bh"}, "fill": {"datum": "Bison Distribution", "type": "nominal"}}},
   {"mark": {"type": "line", "interpolate": "step-after", "strokeWidth": 4, "strokeOpacity": 0.65}, "encoding": {"x": {"field": "t", "type": "quantitative", "scale": {"domain": [0, 20000], "reverse": true, "nice": false, "zero": false}, "axis": {"title": "Year BP", "values": [20000, 16000, 12000, 8000, 4000, 0], "format": "d"}}, "y": {"field": "bm", "type": "quantitative", "scale": {"domain": [526.4, 1353.6], "nice": false, "zero": false}, "axis": {"title": "Std. dev. * 100", "values": [600, 800, 1000, 1200], "format": "d"}}, "stroke": {"datum": "bison", "type": "nominal"}}}
  ]},
  {"transform": [{"filter": "isValid(datum.r)"}], "mark": {"type": "circle", "size": 190, "color": "#708090", "opacity": 1}, "encoding": {"x": {"field": "m", "type": "quantitative", "scale": {"domain": [0, 20000], "reverse": true, "nice": false, "zero": false}, "axis": {"title": "Year BP", "values": [20000, 16000, 12000, 8000, 4000, 0], "format": "d"}}, "y": {"field": "r", "type": "quantitative", "scale": {"domain": [0.6, 9.4], "reverse": true, "nice": false, "zero": false}, "axis": {"orient": "right", "title": "Variable rank", "values": [1, 2, 3, 4, 5, 6, 7, 8, 9], "format": "d"}}}}
 ]},
{"title": {"text": "Precipitation Seasonality", "offset": 8}, "width": 717, "height": 304, "data": {"name": "p4"}, "resolve": {"scale": {"y": "independent"}},
 "layer": [
  {"layer": [
   {"mark": {"type": "area", "interpolate": "step-after", "fillOpacity": 0.5}, "encoding": {"x": {"field": "t", "type": "quantitative", "scale": {"domain": [0, 20000], "reverse": true, "nice": false, "zero": false}, "axis": {"title": "Year BP", "values": [20000, 16000, 12000, 8000, 4000, 0], "format": "d"}}, "y": {"field": "nl", "type": "quantitative", "scale": {"domain": [18.65, 70.35], "nice": false, "zero": false}, "axis": {"title": "Coeff. of variation", "values": [20, 30, 40, 50, 60, 70], "format": "d"}}, "y2": {"field": "nh"}, "fill": {"datum": "North America (ice-free area)", "type": "nominal"}}},
   {"mark": {"type": "line", "interpolate": "step-after", "strokeWidth": 4, "strokeOpacity": 0.65}, "encoding": {"x": {"field": "t", "type": "quantitative", "scale": {"domain": [0, 20000], "reverse": true, "nice": false, "zero": false}, "axis": {"title": "Year BP", "values": [20000, 16000, 12000, 8000, 4000, 0], "format": "d"}}, "y": {"field": "nm", "type": "quantitative", "scale": {"domain": [18.65, 70.35], "nice": false, "zero": false}, "axis": {"title": "Coeff. of variation", "values": [20, 30, 40, 50, 60, 70], "format": "d"}}, "stroke": {"datum": "na", "type": "nominal"}}},
   {"mark": {"type": "area", "interpolate": "step-after", "fillOpacity": 0.3}, "encoding": {"x": {"field": "t", "type": "quantitative", "scale": {"domain": [0, 20000], "reverse": true, "nice": false, "zero": false}, "axis": {"title": "Year BP", "values": [20000, 16000, 12000, 8000, 4000, 0], "format": "d"}}, "y": {"field": "bl", "type": "quantitative", "scale": {"domain": [18.65, 70.35], "nice": false, "zero": false}, "axis": {"title": "Coeff. of variation", "values": [20, 30, 40, 50, 60, 70], "format": "d"}}, "y2": {"field": "bh"}, "fill": {"datum": "Bison Distribution", "type": "nominal"}}},
   {"mark": {"type": "line", "interpolate": "step-after", "strokeWidth": 4, "strokeOpacity": 0.65}, "encoding": {"x": {"field": "t", "type": "quantitative", "scale": {"domain": [0, 20000], "reverse": true, "nice": false, "zero": false}, "axis": {"title": "Year BP", "values": [20000, 16000, 12000, 8000, 4000, 0], "format": "d"}}, "y": {"field": "bm", "type": "quantitative", "scale": {"domain": [18.65, 70.35], "nice": false, "zero": false}, "axis": {"title": "Coeff. of variation", "values": [20, 30, 40, 50, 60, 70], "format": "d"}}, "stroke": {"datum": "bison", "type": "nominal"}}}
  ]},
  {"transform": [{"filter": "isValid(datum.r)"}], "mark": {"type": "circle", "size": 190, "color": "#708090", "opacity": 1}, "encoding": {"x": {"field": "m", "type": "quantitative", "scale": {"domain": [0, 20000], "reverse": true, "nice": false, "zero": false}, "axis": {"title": "Year BP", "values": [20000, 16000, 12000, 8000, 4000, 0], "format": "d"}}, "y": {"field": "r", "type": "quantitative", "scale": {"domain": [0.6, 9.4], "reverse": true, "nice": false, "zero": false}, "axis": {"orient": "right", "title": "Variable rank", "values": [1, 2, 3, 4, 5, 6, 7, 8, 9], "format": "d"}}}}
 ]},
{"title": {"text": "Mean Temperature of Wettest Quarter", "offset": 15}, "width": 717, "height": 304, "data": {"name": "p5"}, "resolve": {"scale": {"y": "independent"}},
 "layer": [
  {"layer": [
   {"mark": {"type": "area", "interpolate": "step-after", "fillOpacity": 0.5}, "encoding": {"x": {"field": "t", "type": "quantitative", "scale": {"domain": [0, 20000], "reverse": true, "nice": false, "zero": false}, "axis": {"title": "Year BP", "values": [20000, 16000, 12000, 8000, 4000, 0], "format": "d"}}, "y": {"field": "nl", "type": "quantitative", "scale": {"domain": [8.8, 35.2], "nice": false, "zero": false}, "axis": {"title": "°C", "values": [10, 15, 20, 25, 30, 35], "format": "d"}}, "y2": {"field": "nh"}, "fill": {"datum": "North America (ice-free area)", "type": "nominal"}}},
   {"mark": {"type": "line", "interpolate": "step-after", "strokeWidth": 4, "strokeOpacity": 0.65}, "encoding": {"x": {"field": "t", "type": "quantitative", "scale": {"domain": [0, 20000], "reverse": true, "nice": false, "zero": false}, "axis": {"title": "Year BP", "values": [20000, 16000, 12000, 8000, 4000, 0], "format": "d"}}, "y": {"field": "nm", "type": "quantitative", "scale": {"domain": [8.8, 35.2], "nice": false, "zero": false}, "axis": {"title": "°C", "values": [10, 15, 20, 25, 30, 35], "format": "d"}}, "stroke": {"datum": "na", "type": "nominal"}}},
   {"mark": {"type": "area", "interpolate": "step-after", "fillOpacity": 0.3}, "encoding": {"x": {"field": "t", "type": "quantitative", "scale": {"domain": [0, 20000], "reverse": true, "nice": false, "zero": false}, "axis": {"title": "Year BP", "values": [20000, 16000, 12000, 8000, 4000, 0], "format": "d"}}, "y": {"field": "bl", "type": "quantitative", "scale": {"domain": [8.8, 35.2], "nice": false, "zero": false}, "axis": {"title": "°C", "values": [10, 15, 20, 25, 30, 35], "format": "d"}}, "y2": {"field": "bh"}, "fill": {"datum": "Bison Distribution", "type": "nominal"}}},
   {"mark": {"type": "line", "interpolate": "step-after", "strokeWidth": 4, "strokeOpacity": 0.65}, "encoding": {"x": {"field": "t", "type": "quantitative", "scale": {"domain": [0, 20000], "reverse": true, "nice": false, "zero": false}, "axis": {"title": "Year BP", "values": [20000, 16000, 12000, 8000, 4000, 0], "format": "d"}}, "y": {"field": "bm", "type": "quantitative", "scale": {"domain": [8.8, 35.2], "nice": false, "zero": false}, "axis": {"title": "°C", "values": [10, 15, 20, 25, 30, 35], "format": "d"}}, "stroke": {"datum": "bison", "type": "nominal"}}}
  ]},
  {"transform": [{"filter": "isValid(datum.r)"}], "mark": {"type": "circle", "size": 190, "color": "#708090", "opacity": 1}, "encoding": {"x": {"field": "m", "type": "quantitative", "scale": {"domain": [0, 20000], "reverse": true, "nice": false, "zero": false}, "axis": {"title": "Year BP", "values": [20000, 16000, 12000, 8000, 4000, 0], "format": "d"}}, "y": {"field": "r", "type": "quantitative", "scale": {"domain": [0.6, 9.4], "reverse": true, "nice": false, "zero": false}, "axis": {"orient": "right", "title": "Variable rank", "values": [1, 2, 3, 4, 5, 6, 7, 8, 9], "format": "d"}}}}
 ]},
{"title": {"text": "Precipitation of Wettest Quarter", "offset": 27}, "width": 717, "height": 304, "data": {"name": "p6"}, "resolve": {"scale": {"y": "independent"}},
 "layer": [
  {"layer": [
   {"mark": {"type": "area", "interpolate": "step-after", "fillOpacity": 0.5}, "encoding": {"x": {"field": "t", "type": "quantitative", "scale": {"domain": [0, 20000], "reverse": true, "nice": false, "zero": false}, "axis": {"title": "Year BP", "values": [20000, 16000, 12000, 8000, 4000, 0], "format": "d"}}, "y": {"field": "nl", "type": "quantitative", "scale": {"domain": [4.15, 22.85], "nice": false, "zero": false}, "axis": {"title": "cm", "values": [5, 10, 15, 20], "format": "d"}}, "y2": {"field": "nh"}, "fill": {"datum": "North America (ice-free area)", "type": "nominal"}}},
   {"mark": {"type": "line", "interpolate": "step-after", "strokeWidth": 4, "strokeOpacity": 0.65}, "encoding": {"x": {"field": "t", "type": "quantitative", "scale": {"domain": [0, 20000], "reverse": true, "nice": false, "zero": false}, "axis": {"title": "Year BP", "values": [20000, 16000, 12000, 8000, 4000, 0], "format": "d"}}, "y": {"field": "nm", "type": "quantitative", "scale": {"domain": [4.15, 22.85], "nice": false, "zero": false}, "axis": {"title": "cm", "values": [5, 10, 15, 20], "format": "d"}}, "stroke": {"datum": "na", "type": "nominal"}}},
   {"mark": {"type": "area", "interpolate": "step-after", "fillOpacity": 0.3}, "encoding": {"x": {"field": "t", "type": "quantitative", "scale": {"domain": [0, 20000], "reverse": true, "nice": false, "zero": false}, "axis": {"title": "Year BP", "values": [20000, 16000, 12000, 8000, 4000, 0], "format": "d"}}, "y": {"field": "bl", "type": "quantitative", "scale": {"domain": [4.15, 22.85], "nice": false, "zero": false}, "axis": {"title": "cm", "values": [5, 10, 15, 20], "format": "d"}}, "y2": {"field": "bh"}, "fill": {"datum": "Bison Distribution", "type": "nominal"}}},
   {"mark": {"type": "line", "interpolate": "step-after", "strokeWidth": 4, "strokeOpacity": 0.65}, "encoding": {"x": {"field": "t", "type": "quantitative", "scale": {"domain": [0, 20000], "reverse": true, "nice": false, "zero": false}, "axis": {"title": "Year BP", "values": [20000, 16000, 12000, 8000, 4000, 0], "format": "d"}}, "y": {"field": "bm", "type": "quantitative", "scale": {"domain": [4.15, 22.85], "nice": false, "zero": false}, "axis": {"title": "cm", "values": [5, 10, 15, 20], "format": "d"}}, "stroke": {"datum": "bison", "type": "nominal"}}}
  ]},
  {"transform": [{"filter": "isValid(datum.r)"}], "mark": {"type": "circle", "size": 190, "color": "#708090", "opacity": 1}, "encoding": {"x": {"field": "m", "type": "quantitative", "scale": {"domain": [0, 20000], "reverse": true, "nice": false, "zero": false}, "axis": {"title": "Year BP", "values": [20000, 16000, 12000, 8000, 4000, 0], "format": "d"}}, "y": {"field": "r", "type": "quantitative", "scale": {"domain": [0.6, 9.4], "reverse": true, "nice": false, "zero": false}, "axis": {"orient": "right", "title": "Variable rank", "values": [1, 2, 3, 4, 5, 6, 7, 8, 9], "format": "d"}}}}
 ]},
{"title": "Mean Temperature of Warmest Quarter", "width": 717, "height": 304, "data": {"name": "p7"}, "resolve": {"scale": {"y": "independent"}},
 "layer": [
  {"layer": [
   {"mark": {"type": "area", "interpolate": "step-after", "fillOpacity": 0.5}, "encoding": {"x": {"field": "t", "type": "quantitative", "scale": {"domain": [0, 20000], "reverse": true, "nice": false, "zero": false}, "axis": {"title": "Year BP", "values": [20000, 16000, 12000, 8000, 4000, 0], "format": "d"}}, "y": {"field": "nl", "type": "quantitative", "scale": {"domain": [18.1, 37.9], "nice": false, "zero": false}, "axis": {"title": "°C", "values": [20, 25, 30, 35], "format": "d"}}, "y2": {"field": "nh"}, "fill": {"datum": "North America (ice-free area)", "type": "nominal"}}},
   {"mark": {"type": "line", "interpolate": "step-after", "strokeWidth": 4, "strokeOpacity": 0.65}, "encoding": {"x": {"field": "t", "type": "quantitative", "scale": {"domain": [0, 20000], "reverse": true, "nice": false, "zero": false}, "axis": {"title": "Year BP", "values": [20000, 16000, 12000, 8000, 4000, 0], "format": "d"}}, "y": {"field": "nm", "type": "quantitative", "scale": {"domain": [18.1, 37.9], "nice": false, "zero": false}, "axis": {"title": "°C", "values": [20, 25, 30, 35], "format": "d"}}, "stroke": {"datum": "na", "type": "nominal"}}},
   {"mark": {"type": "area", "interpolate": "step-after", "fillOpacity": 0.3}, "encoding": {"x": {"field": "t", "type": "quantitative", "scale": {"domain": [0, 20000], "reverse": true, "nice": false, "zero": false}, "axis": {"title": "Year BP", "values": [20000, 16000, 12000, 8000, 4000, 0], "format": "d"}}, "y": {"field": "bl", "type": "quantitative", "scale": {"domain": [18.1, 37.9], "nice": false, "zero": false}, "axis": {"title": "°C", "values": [20, 25, 30, 35], "format": "d"}}, "y2": {"field": "bh"}, "fill": {"datum": "Bison Distribution", "type": "nominal"}}},
   {"mark": {"type": "line", "interpolate": "step-after", "strokeWidth": 4, "strokeOpacity": 0.65}, "encoding": {"x": {"field": "t", "type": "quantitative", "scale": {"domain": [0, 20000], "reverse": true, "nice": false, "zero": false}, "axis": {"title": "Year BP", "values": [20000, 16000, 12000, 8000, 4000, 0], "format": "d"}}, "y": {"field": "bm", "type": "quantitative", "scale": {"domain": [18.1, 37.9], "nice": false, "zero": false}, "axis": {"title": "°C", "values": [20, 25, 30, 35], "format": "d"}}, "stroke": {"datum": "bison", "type": "nominal"}}}
  ]},
  {"transform": [{"filter": "isValid(datum.r)"}], "mark": {"type": "circle", "size": 190, "color": "#708090", "opacity": 1}, "encoding": {"x": {"field": "m", "type": "quantitative", "scale": {"domain": [0, 20000], "reverse": true, "nice": false, "zero": false}, "axis": {"title": "Year BP", "values": [20000, 16000, 12000, 8000, 4000, 0], "format": "d"}}, "y": {"field": "r", "type": "quantitative", "scale": {"domain": [0.6, 9.4], "reverse": true, "nice": false, "zero": false}, "axis": {"orient": "right", "title": "Variable rank", "values": [1, 2, 3, 4, 5, 6, 7, 8, 9], "format": "d"}}}}
 ]},
{"title": "Precipitation of Warmest Quarter", "width": 717, "height": 304, "data": {"name": "p8"}, "resolve": {"scale": {"y": "independent"}},
 "layer": [
  {"layer": [
   {"mark": {"type": "area", "interpolate": "step-after", "fillOpacity": 0.5}, "encoding": {"x": {"field": "t", "type": "quantitative", "scale": {"domain": [0, 20000], "reverse": true, "nice": false, "zero": false}, "axis": {"title": "Year BP", "values": [20000, 16000, 12000, 8000, 4000, 0], "format": "d"}}, "y": {"field": "nl", "type": "quantitative", "scale": {"domain": [1.6, 10.4], "nice": false, "zero": false}, "axis": {"title": "cm", "values": [2, 4, 6, 8, 10], "format": "d"}}, "y2": {"field": "nh"}, "fill": {"datum": "North America (ice-free area)", "type": "nominal"}}},
   {"mark": {"type": "line", "interpolate": "step-after", "strokeWidth": 4, "strokeOpacity": 0.65}, "encoding": {"x": {"field": "t", "type": "quantitative", "scale": {"domain": [0, 20000], "reverse": true, "nice": false, "zero": false}, "axis": {"title": "Year BP", "values": [20000, 16000, 12000, 8000, 4000, 0], "format": "d"}}, "y": {"field": "nm", "type": "quantitative", "scale": {"domain": [1.6, 10.4], "nice": false, "zero": false}, "axis": {"title": "cm", "values": [2, 4, 6, 8, 10], "format": "d"}}, "stroke": {"datum": "na", "type": "nominal"}}},
   {"mark": {"type": "area", "interpolate": "step-after", "fillOpacity": 0.3}, "encoding": {"x": {"field": "t", "type": "quantitative", "scale": {"domain": [0, 20000], "reverse": true, "nice": false, "zero": false}, "axis": {"title": "Year BP", "values": [20000, 16000, 12000, 8000, 4000, 0], "format": "d"}}, "y": {"field": "bl", "type": "quantitative", "scale": {"domain": [1.6, 10.4], "nice": false, "zero": false}, "axis": {"title": "cm", "values": [2, 4, 6, 8, 10], "format": "d"}}, "y2": {"field": "bh"}, "fill": {"datum": "Bison Distribution", "type": "nominal"}}},
   {"mark": {"type": "line", "interpolate": "step-after", "strokeWidth": 4, "strokeOpacity": 0.65}, "encoding": {"x": {"field": "t", "type": "quantitative", "scale": {"domain": [0, 20000], "reverse": true, "nice": false, "zero": false}, "axis": {"title": "Year BP", "values": [20000, 16000, 12000, 8000, 4000, 0], "format": "d"}}, "y": {"field": "bm", "type": "quantitative", "scale": {"domain": [1.6, 10.4], "nice": false, "zero": false}, "axis": {"title": "cm", "values": [2, 4, 6, 8, 10], "format": "d"}}, "stroke": {"datum": "bison", "type": "nominal"}}}
  ]},
  {"transform": [{"filter": "isValid(datum.r)"}], "mark": {"type": "circle", "size": 190, "color": "#708090", "opacity": 1}, "encoding": {"x": {"field": "m", "type": "quantitative", "scale": {"domain": [0, 20000], "reverse": true, "nice": false, "zero": false}, "axis": {"title": "Year BP", "values": [20000, 16000, 12000, 8000, 4000, 0], "format": "d"}}, "y": {"field": "r", "type": "quantitative", "scale": {"domain": [0.6, 9.4], "reverse": true, "nice": false, "zero": false}, "axis": {"orient": "right", "title": "Variable rank", "values": [1, 2, 3, 4, 5, 6, 7, 8, 9], "format": "d"}}}}
 ]},
{"width": 717, "height": 304, "data": {"values": []}, "mark": "point"},
{"title": "Precipitation of Driest Month", "width": 694, "height": 304, "data": {"name": "p9"}, "resolve": {"scale": {"y": "independent"}},
 "layer": [
  {"layer": [
   {"mark": {"type": "area", "interpolate": "step-after", "fillOpacity": 0.5}, "encoding": {"x": {"field": "t", "type": "quantitative", "scale": {"domain": [0, 20000], "reverse": true, "nice": false, "zero": false}, "axis": {"title": "Year BP", "values": [20000, 16000, 12000, 8000, 4000, 0], "format": "d"}}, "y": {"field": "nl", "type": "quantitative", "scale": {"domain": [-0.05, 1.05], "nice": false, "zero": false}, "axis": {"title": "cm", "values": [0, 0.25, 0.5, 0.75, 1], "format": ".2f"}}, "y2": {"field": "nh"}, "fill": {"datum": "North America (ice-free area)", "type": "nominal"}}},
   {"mark": {"type": "line", "interpolate": "step-after", "strokeWidth": 4, "strokeOpacity": 0.65}, "encoding": {"x": {"field": "t", "type": "quantitative", "scale": {"domain": [0, 20000], "reverse": true, "nice": false, "zero": false}, "axis": {"title": "Year BP", "values": [20000, 16000, 12000, 8000, 4000, 0], "format": "d"}}, "y": {"field": "nm", "type": "quantitative", "scale": {"domain": [-0.05, 1.05], "nice": false, "zero": false}, "axis": {"title": "cm", "values": [0, 0.25, 0.5, 0.75, 1], "format": ".2f"}}, "stroke": {"datum": "na", "type": "nominal"}}},
   {"mark": {"type": "area", "interpolate": "step-after", "fillOpacity": 0.3}, "encoding": {"x": {"field": "t", "type": "quantitative", "scale": {"domain": [0, 20000], "reverse": true, "nice": false, "zero": false}, "axis": {"title": "Year BP", "values": [20000, 16000, 12000, 8000, 4000, 0], "format": "d"}}, "y": {"field": "bl", "type": "quantitative", "scale": {"domain": [-0.05, 1.05], "nice": false, "zero": false}, "axis": {"title": "cm", "values": [0, 0.25, 0.5, 0.75, 1], "format": ".2f"}}, "y2": {"field": "bh"}, "fill": {"datum": "Bison Distribution", "type": "nominal"}}},
   {"mark": {"type": "line", "interpolate": "step-after", "strokeWidth": 4, "strokeOpacity": 0.65}, "encoding": {"x": {"field": "t", "type": "quantitative", "scale": {"domain": [0, 20000], "reverse": true, "nice": false, "zero": false}, "axis": {"title": "Year BP", "values": [20000, 16000, 12000, 8000, 4000, 0], "format": "d"}}, "y": {"field": "bm", "type": "quantitative", "scale": {"domain": [-0.05, 1.05], "nice": false, "zero": false}, "axis": {"title": "cm", "values": [0, 0.25, 0.5, 0.75, 1], "format": ".2f"}}, "stroke": {"datum": "bison", "type": "nominal"}}}
  ]},
  {"transform": [{"filter": "isValid(datum.r)"}], "mark": {"type": "circle", "size": 190, "color": "#708090", "opacity": 1}, "encoding": {"x": {"field": "m", "type": "quantitative", "scale": {"domain": [0, 20000], "reverse": true, "nice": false, "zero": false}, "axis": {"title": "Year BP", "values": [20000, 16000, 12000, 8000, 4000, 0], "format": "d"}}, "y": {"field": "r", "type": "quantitative", "scale": {"domain": [0.6, 9.4], "reverse": true, "nice": false, "zero": false}, "axis": {"orient": "right", "title": "Variable rank", "values": [1, 2, 3, 4, 5, 6, 7, 8, 9], "format": "d"}}}}
 ]}
]
}
